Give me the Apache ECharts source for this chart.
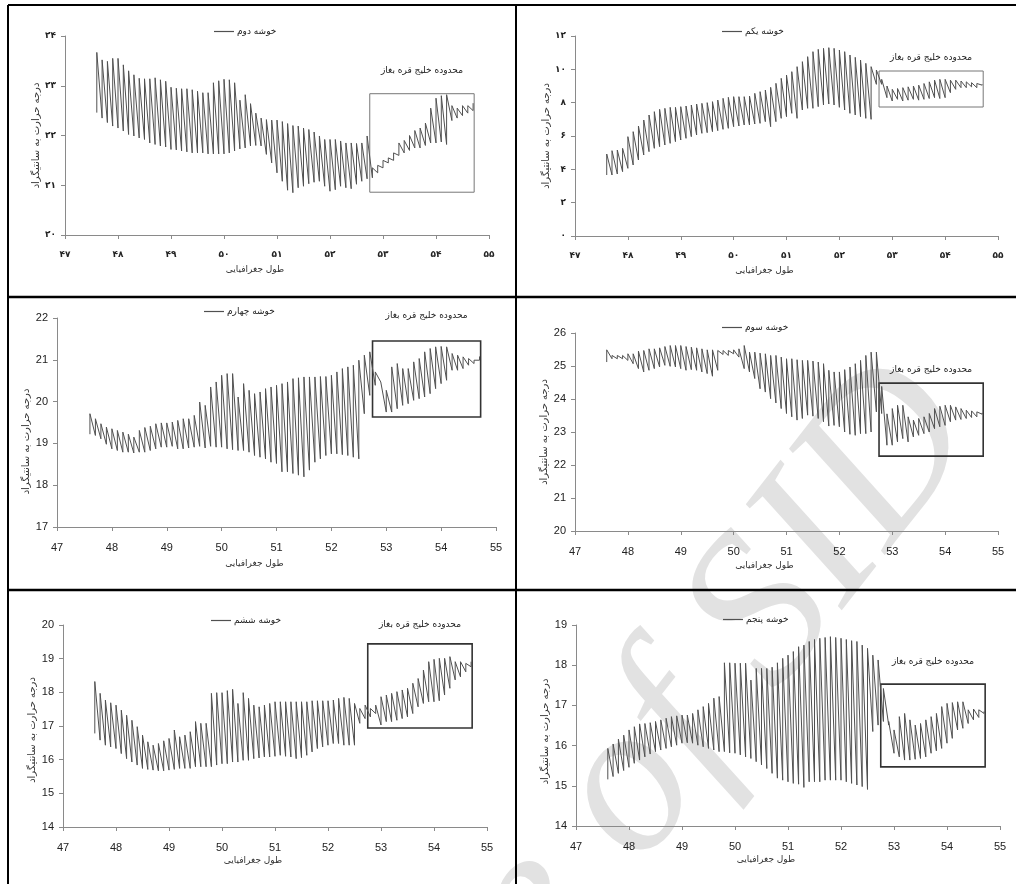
<!DOCTYPE html>
<html>
<head>
<meta charset="utf-8">
<script src="https://cdn.jsdelivr.net/npm/echarts@6/dist/echarts.min.js"></script>
<style>
html,body{margin:0;padding:0;background:#fff;}
#chart{width:1016px;height:884px;}
</style>
</head>
<body>
<div id="chart"></div>
<script>
// Grid columns of longitude (0.1° apart)
const longitudes = [47.6,47.7,47.8,47.9,48.0,48.1,48.2,48.3,48.4,48.5,48.6,48.7,48.8,48.9,49.0,49.1,49.2,49.3,49.4,49.5,
  49.6,49.7,49.8,49.9,50.0,50.1,50.2,50.3,50.4,50.5,50.6,50.7,50.8,50.9,51.0,51.1,51.2,51.3,51.4,51.5,
  51.6,51.7,51.8,51.9,52.0,52.1,52.2,52.3,52.4,52.5,52.6,52.7,52.8,52.9,53.0,53.1,53.2,53.3,53.4,53.5,
  53.6,53.7,53.8,53.9,54.0,54.1,54.2,54.3,54.4,54.5,54.6,54.7];

// Cluster names
const clusterNames = ['خوشه دوم','خوشه یکم','خوشه چهارم','خوشه سوم','خوشه ششم','خوشه پنجم'];

// Highest / lowest temperature of each longitude column, per cluster
const dovomTop = [23.67,23.52,23.49,23.55,23.55,23.42,23.30,23.22,23.15,23.14,
  23.14,23.16,23.12,23.09,22.97,22.95,22.94,22.94,22.92,22.89,
  22.86,22.86,23.06,23.10,23.13,23.12,23.06,22.71,22.82,22.64,
  22.45,22.35,22.32,22.31,22.31,22.28,22.24,22.20,22.19,22.15,
  22.12,22.07,21.99,21.92,21.92,21.92,21.89,21.85,21.85,21.84,
  21.85,21.99,21.35,21.40,21.50,21.55,21.65,21.85,21.90,22.00,
  22.10,22.15,22.25,22.55,22.75,22.80,22.82,22.60,22.55,22.60,
  22.60,22.65];
const dovomBottom = [22.46,22.35,22.26,22.19,22.15,22.09,22.02,21.99,21.95,21.92,
  21.85,21.82,21.79,21.77,21.72,21.71,21.69,21.67,21.65,21.65,
  21.65,21.63,21.63,21.63,21.63,21.65,21.69,21.73,21.75,21.79,
  21.80,21.79,21.62,21.45,21.25,21.08,20.90,20.85,20.95,20.98,
  21.03,21.06,21.08,20.98,20.88,20.91,20.98,20.95,20.93,21.02,
  21.08,21.13,21.15,21.25,21.35,21.45,21.50,21.60,21.65,21.70,
  21.75,21.75,21.80,21.85,21.85,21.87,21.82,22.30,22.35,22.40,
  22.45,22.50];

const yekomTop = [4.92,5.12,5.16,5.26,5.96,6.26,6.60,6.96,7.26,7.46,
  7.60,7.66,7.72,7.72,7.76,7.80,7.86,7.92,7.96,8.00,
  8.06,8.16,8.26,8.32,8.36,8.36,8.36,8.40,8.56,8.66,
  8.76,8.92,9.16,9.46,9.66,9.86,10.16,10.46,10.76,11.06,
  11.20,11.26,11.30,11.26,11.16,11.06,10.86,10.72,10.56,10.36,
  10.16,9.96,9.40,9.00,8.80,8.85,8.90,8.95,9.00,9.05,
  9.15,9.25,9.35,9.40,9.40,9.35,9.35,9.30,9.25,9.20,
  9.15,9.10];
const yekomBottom = [3.66,3.66,3.72,3.86,4.06,4.26,4.56,4.86,5.06,5.26,
  5.36,5.46,5.56,5.66,5.76,5.86,5.96,6.06,6.16,6.20,
  6.26,6.32,6.40,6.46,6.56,6.60,6.66,6.66,6.72,6.76,
  6.86,6.56,6.86,7.06,7.16,7.36,7.06,7.56,7.66,7.66,
  7.76,7.86,7.92,7.86,7.72,7.56,7.36,7.26,7.16,7.06,
  7.00,9.10,9.10,8.30,8.10,8.20,8.10,8.15,8.20,8.15,
  8.20,8.25,8.30,8.25,8.30,8.60,8.80,8.90,8.90,8.95,
  8.90,9.05];

const chaharomTop = [19.71,19.59,19.47,19.39,19.35,19.31,19.27,19.22,19.15,19.31,
  19.38,19.41,19.47,19.49,19.49,19.51,19.55,19.59,19.59,19.67,
  19.99,19.91,20.35,20.47,20.63,20.67,20.67,20.11,20.43,20.27,
  20.19,20.23,20.31,20.35,20.39,20.43,20.47,20.55,20.57,20.59,
  20.59,20.59,20.60,20.60,20.63,20.71,20.79,20.83,20.87,20.99,
  21.11,21.19,20.71,20.51,20.27,20.83,20.91,20.79,20.79,20.95,
  21.03,21.19,21.27,21.31,21.32,21.31,21.15,21.11,21.07,21.03,
  20.99,21.08];
const chaharomBottom = [19.22,19.19,19.11,18.98,18.87,18.83,18.79,18.79,18.77,18.79,
  18.79,18.83,18.87,18.91,18.91,18.93,18.87,18.87,18.89,18.91,
  18.93,18.89,18.93,18.91,18.91,18.87,18.85,18.83,18.83,18.79,
  18.71,18.67,18.63,18.55,18.52,18.32,18.32,18.28,18.24,18.20,
  18.36,18.55,18.63,18.71,18.75,18.75,18.73,18.71,18.67,18.63,
  19.71,20.15,20.39,20.47,19.75,19.75,19.83,19.91,19.95,20.03,
  20.07,20.11,20.19,20.31,20.43,20.51,20.75,20.75,20.79,20.87,
  20.91,20.99];

const sevomTop = [25.49,25.32,25.32,25.32,25.37,25.37,25.45,25.47,25.52,25.52,
  25.55,25.59,25.62,25.62,25.62,25.59,25.57,25.55,25.52,25.49,
  25.49,25.47,25.47,25.47,25.49,25.52,25.62,25.42,25.42,25.39,
  25.37,25.32,25.32,25.27,25.22,25.22,25.19,25.17,25.17,25.15,
  25.12,25.07,24.87,24.82,24.82,24.89,24.97,25.07,25.17,25.32,
  25.42,25.42,24.38,23.55,23.71,23.81,23.81,23.46,23.36,23.41,
  23.46,23.56,23.71,23.78,23.81,23.81,23.76,23.71,23.66,23.64,
  23.61,23.58];
const sevomBottom = [25.12,25.22,25.22,25.22,25.17,25.07,24.92,24.82,24.87,24.92,
  24.97,25.02,24.99,24.97,24.92,24.87,24.89,24.87,24.82,24.77,
  24.69,24.87,25.35,25.32,25.37,25.27,24.92,24.82,24.62,24.31,
  24.21,24.01,23.88,23.71,23.56,23.46,23.36,23.41,23.51,23.48,
  23.41,23.31,23.18,23.20,23.16,23.00,22.93,22.90,22.95,22.95,
  23.00,23.61,23.56,22.60,22.60,22.70,22.80,22.70,22.85,22.90,
  22.95,23.00,23.10,23.16,23.20,23.31,23.36,23.38,23.41,23.44,
  23.46,23.54];

const sheshomTop = [18.32,17.97,17.77,17.69,17.62,17.47,17.32,17.17,16.98,16.73,
  16.53,16.43,16.48,16.56,16.63,16.88,16.68,16.73,16.83,17.13,
  17.08,17.08,17.97,17.99,17.99,18.05,18.09,17.67,17.99,17.82,
  17.62,17.57,17.62,17.67,17.72,17.72,17.72,17.72,17.72,17.72,
  17.72,17.75,17.75,17.75,17.75,17.77,17.82,17.85,17.82,17.67,
  17.52,17.62,17.52,17.62,17.87,17.92,17.97,18.02,18.07,18.12,
  18.27,18.41,18.66,18.91,18.98,19.01,19.01,19.06,18.91,18.91,
  18.86,18.91];
const sheshomBottom = [16.78,16.58,16.43,16.38,16.33,16.18,16.03,15.93,15.84,15.74,
  15.71,15.69,15.67,15.67,15.69,15.71,15.74,15.74,15.74,15.79,
  15.79,15.79,15.79,15.84,15.88,15.88,15.93,15.93,15.98,15.98,
  16.03,16.05,16.08,16.08,16.10,16.13,16.10,16.08,16.03,16.06,
  16.13,16.23,16.33,16.38,16.43,16.48,16.48,16.43,16.43,16.43,
  17.08,17.22,17.27,17.37,17.03,17.13,17.13,17.17,17.22,17.27,
  17.37,17.57,17.67,17.72,17.72,17.75,17.92,18.12,18.37,18.46,
  18.61,18.76];

const panjomTop = [15.93,16.04,16.16,16.26,16.39,16.47,16.54,16.55,16.57,16.60,
  16.64,16.68,16.72,16.74,16.76,16.76,16.80,16.89,16.97,17.05,
  17.18,17.22,18.06,18.06,18.05,18.05,18.05,17.63,17.92,17.92,
  17.92,17.95,18.06,18.17,18.25,18.34,18.46,18.50,18.59,18.64,
  18.67,18.69,18.71,18.69,18.67,18.64,18.61,18.59,18.50,18.42,
  18.25,18.13,17.42,16.60,16.39,16.72,16.80,16.64,16.51,16.55,
  16.64,16.72,16.80,16.97,17.05,17.07,17.09,17.09,16.89,16.91,
  16.89,16.85];
const panjomBottom = [15.16,15.23,15.31,15.38,15.46,15.56,15.64,15.72,15.79,15.85,
  15.89,15.93,15.97,16.01,16.06,16.07,16.06,16.01,15.97,15.93,
  15.89,15.85,15.85,15.82,15.81,15.77,15.72,15.68,15.60,15.52,
  15.43,15.31,15.19,15.14,15.10,15.06,15.04,14.96,15.10,15.10,
  15.10,15.14,15.14,15.14,15.14,15.10,15.06,15.02,14.98,14.91,
  16.35,16.51,16.60,16.51,15.81,15.72,15.64,15.64,15.66,15.68,
  15.72,15.81,15.87,15.93,16.06,16.18,16.39,16.43,16.55,16.64,
  16.70,16.80];

// Axis ranges and tick labels
const xRange = [47, 55];
const xTicksFa = ['۴۷','۴۸','۴۹','۵۰','۵۱','۵۲','۵۳','۵۴','۵۵'];
const yTicksFaDovom = ['۲۰','۲۱','۲۲','۲۳','۲۴'];
const yTicksFaYekom = ['۰','۲','۴','۶','۸','۱۰','۱۲'];
const yRanges = [[20,24,1],[0,12,2],[17,22,1],[20,26,1],[14,20,1],[14,19,1]];

// Kara-Bogaz-Gol window (longitude span, temperature span) per cluster
const boxLon = [52.75, 54.72];
const boxTemp = [[20.86,22.84],[7.74,9.90],[19.63,21.45],[22.27,24.48],[16.94,19.44],[15.47,17.53]];

const axisXTitle = 'طول جغرافیایی';
const axisYTitle = 'درجه حرارت به سانتیگراد';
const boxTitle = 'محدوده خلیج قره بغاز';
const watermark = 'Archive of SID';

const tops = [dovomTop, yekomTop, chaharomTop, sevomTop, sheshomTop, panjomTop];
const bottoms = [dovomBottom, yekomBottom, chaharomBottom, sevomBottom, sheshomBottom, panjomBottom];

// Layout of each cell of the table
const layout = [
  {grid:{left:65,top:36,width:424,height:199}, fa:true, legend:{left:209,top:22}, nameGapX:30, nameGapY:22, boxGap:18, yShift:0},
  {grid:{left:575,top:36,width:423,height:200}, fa:true, legend:{left:717,top:22}, nameGapX:30, nameGapY:22, boxGap:8, yShift:0},
  {grid:{left:57,top:318,width:439,height:209}, fa:false, legend:{left:199,top:302}, nameGapX:32, nameGapY:22, boxGap:20, yShift:38},
  {grid:{left:575,top:333,width:423,height:198}, fa:false, legend:{left:717,top:318}, nameGapX:30, nameGapY:19, boxGap:8, yShift:0},
  {grid:{left:63,top:625,width:424,height:202}, fa:false, legend:{left:206,top:611}, nameGapX:29, nameGapY:16, boxGap:14, yShift:8},
  {grid:{left:576,top:625,width:424,height:201}, fa:false, legend:{left:718,top:610}, nameGapX:29, nameGapY:18, boxGap:17, yShift:12}
];

const lineColor = '#505050';
const axisColor = '#8a8a8a';
const textColor = '#222';

const grids = [], xAxes = [], yAxes = [], series = [], legends = [];

layout.forEach((L, k) => {
  grids.push(Object.assign({containLabel:false}, L.grid));
  const yr = yRanges[k];
  const labelFont = L.fa
    ? {fontSize:9, fontWeight:'bold', fontFamily:'DejaVu Sans', color:textColor}
    : {fontSize:11, fontFamily:'Liberation Sans', color:textColor};
  xAxes.push({
    type:'value', gridIndex:k, min:xRange[0], max:xRange[1], interval:1,
    axisLine:{onZero:false, lineStyle:{color:axisColor, width:1}},
    axisTick:{show:true, length:4, lineStyle:{color:axisColor}},
    splitLine:{show:false},
    axisLabel:Object.assign({margin:15,
      formatter: v => L.fa ? xTicksFa[v - xRange[0]] : String(v)}, labelFont),
    name:axisXTitle, nameLocation:'middle', nameGap:L.nameGapX,
    nameTextStyle:{fontSize:9, color:'#333', fontFamily:'DejaVu Sans', padding:[0,44,0,0]}
  });
  yAxes.push({
    type:'value', gridIndex:k, min:yr[0], max:yr[1], interval:yr[2],
    axisLine:{show:true, lineStyle:{color:axisColor, width:1}},
    axisTick:{show:true, length:4, lineStyle:{color:axisColor}},
    splitLine:{show:false},
    axisLabel:Object.assign({margin:9,
      formatter: v => {
        if (!L.fa) return String(v);
        return k === 0 ? yTicksFaDovom[v - yr[0]] : yTicksFaYekom[v / yr[2]];
      }}, labelFont),
    name:axisYTitle, nameLocation:'middle', nameGap:L.nameGapY, nameRotate:90,
    nameTextStyle:{fontSize:10, color:'#333', fontFamily:'DejaVu Sans',
      padding:[0, L.yShift, 0, 0]}
  });
  // Each longitude column: lowest then highest value
  const data = [];
  longitudes.forEach((lon, i) => {
    data.push([lon, bottoms[k][i]]);
    data.push([lon, tops[k][i]]);
  });
  series.push({
    name:clusterNames[k], type:'line', xAxisIndex:k, yAxisIndex:k,
    data, showSymbol:false, symbol:'none', animation:false,
    lineStyle:{color:lineColor, width:1}, itemStyle:{color:lineColor},
    markArea:{
      silent:true,
      itemStyle:{color:'rgba(0,0,0,0)', borderColor: k < 2 ? '#777' : '#333', borderWidth: k < 2 ? 1 : 1.6},
      label:{show:true, position:'top', distance:L.boxGap, formatter:boxTitle,
        fontSize:9, color:textColor, fontFamily:'DejaVu Sans'},
      data:[[{xAxis:boxLon[0], yAxis:boxTemp[k][1]}, {xAxis:boxLon[1], yAxis:boxTemp[k][0]}]]
    }
  });
  legends.push({
    data:[clusterNames[k]], left:L.legend.left, top:L.legend.top,
    icon:'rect', itemWidth:20, itemHeight:1.2, itemGap:4,
    textStyle:{fontSize:9, color:textColor, fontFamily:'DejaVu Sans', padding:[0,0,0,-2]},
    selectedMode:false
  });
});

// Table rules separating the six cells
const rule = (x1,y1,x2,y2,w) => ({type:'line', silent:true, z:100,
  shape:{x1,y1,x2,y2}, style:{stroke:'#000', lineWidth:w}});

const chart = echarts.init(document.getElementById('chart'), null, {renderer:'canvas'});
chart.setOption({
  animation:false,
  backgroundColor:'#fff',
  grid:grids, xAxis:xAxes, yAxis:yAxes, series, legend:legends,
  graphic:[
    {type:'text', silent:true, z:-1, x:1022, y:462, rotation:52*Math.PI/180,
      style:{text:watermark, font:'italic 215px "Liberation Serif"', fill:'#e2e2e2',
        textAlign:'right', textVerticalAlign:'bottom'}},
    rule(8,5,1016,5,2),
    rule(8,5,8,884,2),
    rule(516,5,516,884,2),
    rule(8,297,1016,297,2.5),
    rule(8,590,1016,590,2.5)
  ]
});
</script>
</body>
</html>
